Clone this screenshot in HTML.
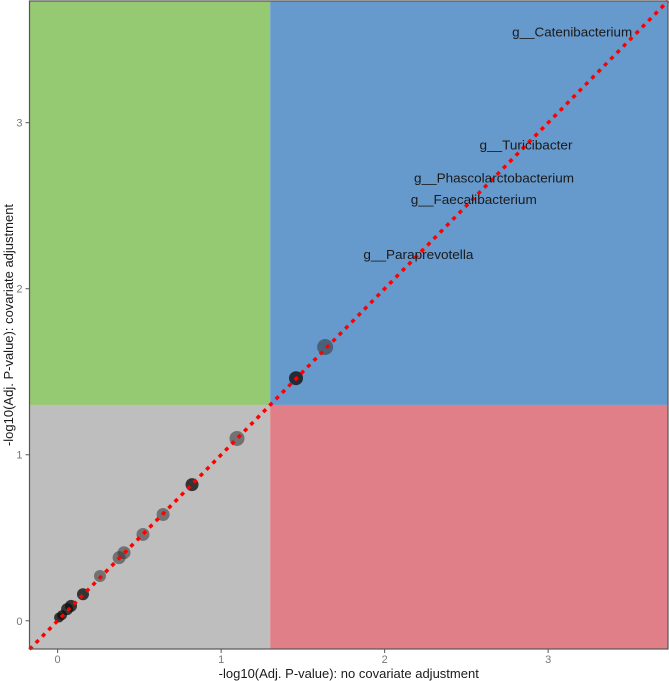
<!DOCTYPE html>
<html><head><meta charset="utf-8"><style>
html,body{margin:0;padding:0;background:#fff;}
svg{display:block;font-family:"Liberation Sans",sans-serif;}
</style></head><body>
<svg id="chart" width="669" height="681" viewBox="0 0 669 681" xmlns="http://www.w3.org/2000/svg"></svg>
<script>
const xVals=[1.636,1.458,1.097,0.822,0.645,0.522,0.406,0.376,0.259,0.155,0.082,0.058,0.027,0.009];
const yVals=[1.649,1.461,1.098,0.82,0.64,0.52,0.41,0.38,0.27,0.16,0.09,0.07,0.034,0.02];
const pointDark=[0,1,0,1,0,0,0,0,0,1,1,1,1,1];
const pointSize=[8,7,7.5,6.5,6.5,6.5,6.5,6.5,6,6,6,6,5,5];
const labelTexts=["g__Catenibacterium","g__Turicibacter","g__Phascolarctobacterium","g__Faecalibacterium","g__Paraprevotella"];
const labelX=[2.78,2.58,2.18,2.16,1.87];
const labelY=[3.55,2.87,2.67,2.54,2.21];
const xTicks=[0,1,2,3];
const yTicks=[0,1,2,3];
const threshold=1.3;

const L=29.5,R=668,T=1,B=649;
const x0=-0.172,x1=3.733,y0=-0.17,y1=3.733;
const sx=v=>L+(v-x0)/(x1-x0)*(R-L);
const sy=v=>B-(v-y0)/(y1-y0)*(B-T);
const svg=document.getElementById('chart');
const NS="http://www.w3.org/2000/svg";
function mk(t,a){const e=document.createElementNS(NS,t);for(const k in a)e.setAttribute(k,a[k]);svg.appendChild(e);return e;}

let e;
e=mk('rect',{x:L,y:T,width:sx(threshold)-L,height:sy(threshold)-T,fill:'#95c972'});


e=mk('rect',{x:sx(threshold),y:T,width:R-sx(threshold),height:sy(threshold)-T,fill:'#6699cc'});


e=mk('rect',{x:L,y:sy(threshold),width:sx(threshold)-L,height:B-sy(threshold),fill:'#bebebe'});


e=mk('rect',{x:sx(threshold),y:sy(threshold),width:R-sx(threshold),height:B-sy(threshold),fill:'#e07f87'});



for(let i=0;i<xVals.length;i++){
  e=mk('circle',{cx:sx(xVals[i]),cy:sy(yVals[i]),r:pointSize[i],fill:pointDark[i]?'#111':'#333','fill-opacity':pointDark[i]?0.8:0.55});
  
  
}

e=mk('line',{x1:sx(x0),y1:sy(x0),x2:sx(y1),y2:sy(y1),stroke:'#ff0000','stroke-width':3.5,'stroke-dasharray':'4 5'});



const labelLens=[120,93,160,126,110];
for(let i=0;i<labelTexts.length;i++){
  e=mk('text',{x:sx(labelX[i]),y:sy(labelY[i])+5,'font-size':13,fill:'#1a1a1a',textLength:labelLens[i],lengthAdjust:'spacingAndGlyphs'});
  e.textContent=labelTexts[i];
  
  
}

e=mk('rect',{x:L,y:T,width:R-L,height:B-T,fill:'none',stroke:'#555','stroke-width':1.2});



for(const t of xTicks){
  e=mk('line',{x1:sx(t),y1:B,x2:sx(t),y2:B+4,stroke:'#555'});
  
  
  e=mk('text',{x:sx(t),y:B+14,'font-size':11,fill:'#777','text-anchor':'middle'});
  e.textContent=t;
  
  
}
for(const t of yTicks){
  e=mk('line',{x1:L-4,y1:sy(t),x2:L,y2:sy(t),stroke:'#555'});
  
  
  e=mk('text',{x:L-7,y:sy(t)+4,'font-size':11,fill:'#777','text-anchor':'end'});
  e.textContent=t;
  
  
}
e=mk('text',{x:(L+R)/2,y:678,'font-size':13,fill:'#1a1a1a','text-anchor':'middle'});
e.textContent='-log10(Adj. P-value): no covariate adjustment';


e=mk('text',{x:0,y:0,'font-size':13,fill:'#1a1a1a','text-anchor':'middle',transform:`translate(13,${(T+B)/2}) rotate(-90)`});
e.textContent='-log10(Adj. P-value): covariate adjustment';


</script>
</body></html>
